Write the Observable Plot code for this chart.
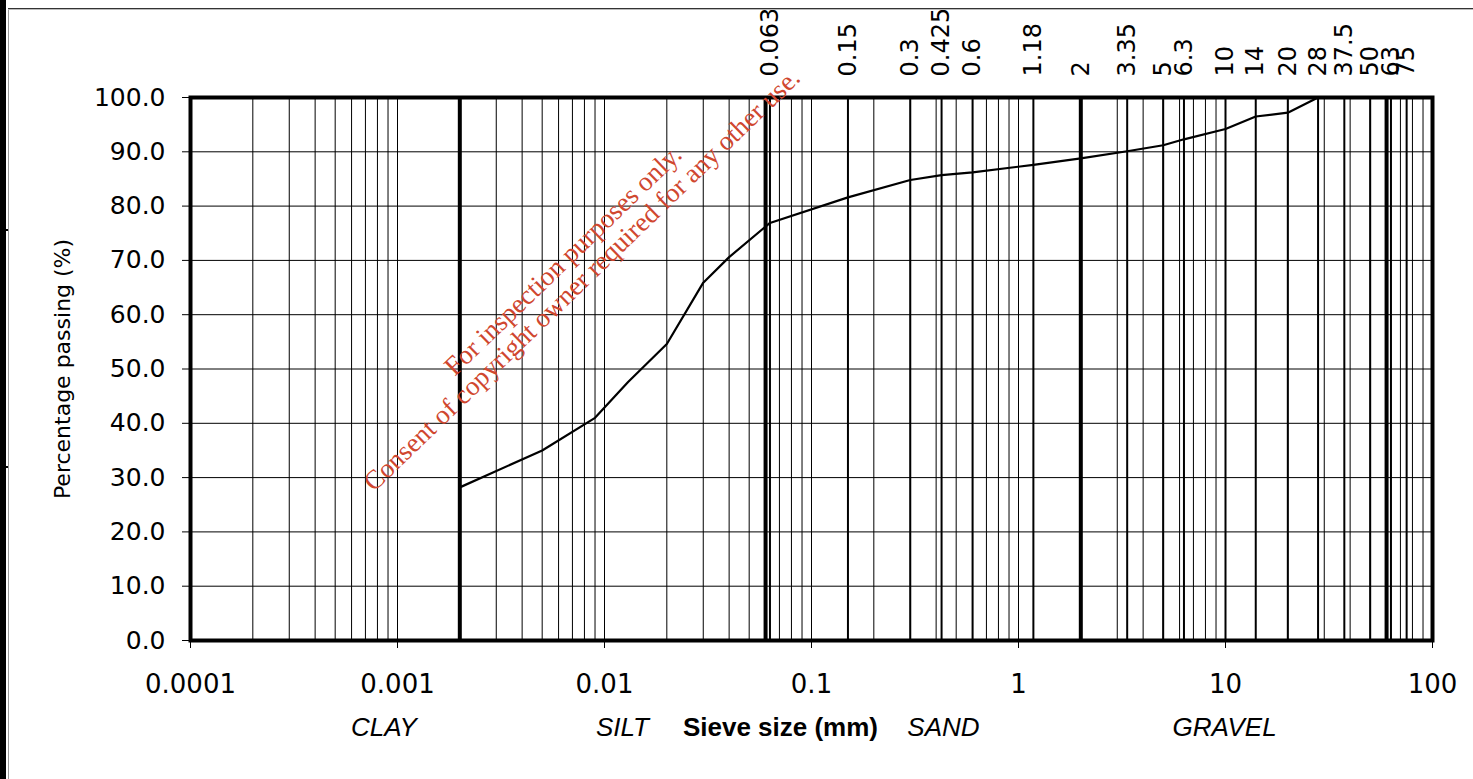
<!DOCTYPE html>
<html>
<head>
<meta charset="utf-8">
<script src="https://cdn.jsdelivr.net/npm/d3@7"></script>
<script src="https://cdn.jsdelivr.net/npm/@observablehq/plot@0.6"></script>
<style>
  html, body { margin: 0; padding: 0; background: #fff; overflow: hidden; }
  #wrap { position: relative; width: 1473px; height: 779px; overflow: hidden; background: #fff; }
  #chart { position: absolute; left: 0; top: 0; z-index: 0; }
  .deco { position: absolute; z-index: 1; }
</style>
</head>
<body>
<div id="wrap">
  <div id="chart"></div>
  <div class="deco" style="left:0;top:0;width:6px;height:779px;background:#000"></div>
  <div class="deco" style="left:0;top:229px;width:8px;height:2px;background:#000"></div>
  <div class="deco" style="left:0;top:466px;width:8px;height:2px;background:#000"></div>
  <div class="deco" style="left:8px;top:8px;width:1px;height:771px;background:#999"></div>
  <div class="deco" style="left:8px;top:8px;width:1465px;height:1px;background:#333"></div>
  <div class="deco" style="left:8px;top:9px;width:1465px;height:1px;background:#bbb"></div>
</div>
<script>
// ---- data ----
const particleSize   = [0.002, 0.005, 0.009, 0.013, 0.02, 0.03, 0.04, 0.063, 0.15, 0.3, 0.425, 0.6, 1.18, 2, 3.35, 5, 6.3, 10, 14, 20, 28];
const percentPassing = [28.2, 35.0, 41.0, 47.6, 54.6, 65.9, 70.6, 76.9, 81.6, 84.8, 85.7, 86.2, 87.6, 88.8, 90.1, 91.2, 92.3, 94.2, 96.5, 97.2, 100];

const sieveSizes  = [0.063, 0.15, 0.3, 0.425, 0.6, 1.18, 2, 3.35, 5, 6.3, 10, 14, 20, 28, 37.5, 50, 63, 75];
const sieveLabels = ["0.063", "0.15", "0.3", "0.425", "0.6", "1.18", "2", "3.35", "5", "6.3", "10", "14", "20", "28", "37.5", "50", "63", "75"];

const boundarySizes = [0.002, 0.06, 2, 60];

const xTicks      = [0.0001, 0.001, 0.01, 0.1, 1, 10, 100];
const xTickLabels = ["0.0001", "0.001", "0.01", "0.1", "1", "10", "100"];
const yTicks      = [0, 10, 20, 30, 40, 50, 60, 70, 80, 90, 100];

const soilNames   = ["CLAY", "SILT", "SAND", "GRAVEL"];
const soilNameAt  = [0.00086, 0.0122, 0.434, 9.9];
const xTitle      = "Sieve size (mm)";
const xTitleAt    = 0.0708;
const yTitle      = "Percentage passing (%)";

const watermarkLines = ["For inspection purposes only.", "Consent of copyright owner required for any other use."];
const watermarkAt    = {x: 0.0070, y: 68.2};

// ---- build ----
const curve = particleSize.map((s, i) => ({size: s, passing: percentPassing[i]}));
const minorGrid = d3.scaleLog().domain([xTicks[0], xTicks[xTicks.length - 1]]).ticks();

const chart = Plot.plot({
  width: 1473,
  height: 779,
  marginLeft: 190,
  marginRight: 41,
  marginTop: 97,
  marginBottom: 139,
  style: {fontFamily: "DejaVu Sans", background: "transparent", color: "#000", overflow: "visible"},
  x: {type: "log", domain: [xTicks[0], xTicks[xTicks.length - 1]]},
  y: {domain: [0, 100]},
  marks: [
    Plot.ruleX(minorGrid, {stroke: "#000", strokeWidth: 1}),
    Plot.ruleY(yTicks, {stroke: "#000", strokeWidth: 1}),
    Plot.ruleX(sieveSizes, {stroke: "#000", strokeWidth: 2}),
    Plot.ruleX(boundarySizes, {stroke: "#000", strokeWidth: 4}),
    Plot.line(curve, {x: "size", y: "passing", stroke: "#000", strokeWidth: 2.2}),
    Plot.frame({stroke: "#000", strokeWidth: 4}),
    Plot.axisY({
      ticks: yTicks, tickSize: 8, tickPadding: 17, fontSize: 25,
      tickFormat: d => d.toFixed(1), label: null
    }),
    Plot.axisX({
      ticks: xTicks, tickSize: 8, tickPadding: 26, fontSize: 26,
      tickFormat: d => xTickLabels[xTicks.indexOf(d)], label: null
    }),
    Plot.text([yTitle], {
      frameAnchor: "left", dx: -128, rotate: -90, text: d => d,
      fontSize: 22, fontFamily: "DejaVu Sans", textAnchor: "middle", lineAnchor: "middle"
    }),
    Plot.text(sieveSizes, {
      x: d => d, frameAnchor: "top", dy: -21, rotate: -90,
      text: (d, i) => sieveLabels[i], textAnchor: "start", lineAnchor: "middle",
      fontSize: 24, fontFamily: "DejaVu Sans"
    }),
    Plot.text(soilNames, {
      x: (d, i) => soilNameAt[i], frameAnchor: "bottom", dy: 87, text: d => d,
      fontSize: 26, fontStyle: "italic", fontFamily: "Liberation Sans",
      textAnchor: "middle", lineAnchor: "middle"
    }),
    Plot.text([xTitle], {
      x: () => xTitleAt, frameAnchor: "bottom", dy: 87, text: d => d,
      fontSize: 26, fontWeight: "bold", fontFamily: "Liberation Sans",
      textAnchor: "middle", lineAnchor: "middle"
    }),
    Plot.text([watermarkLines.join("\n")], {
      x: () => watermarkAt.x, y: () => watermarkAt.y, text: d => d,
      rotate: -44, fontSize: 27, lineHeight: 1, fontFamily: "Liberation Serif",
      fill: "#d0472f", textAnchor: "middle", lineAnchor: "middle"
    })
  ]
});
document.getElementById("chart").appendChild(chart);
</script>
</body>
</html>
